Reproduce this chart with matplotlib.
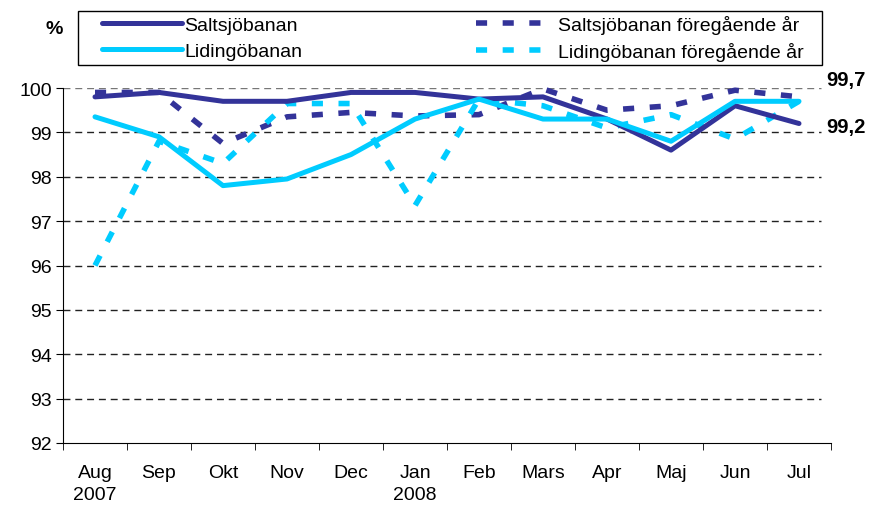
import matplotlib
matplotlib.use("Agg")
import matplotlib.pyplot as plt
from matplotlib.patches import Rectangle
import numpy as np

plt.rcParams['font.family'] = ['Liberation Sans', 'DejaVu Sans']

months = ['Aug\n2007', 'Sep', 'Okt', 'Nov', 'Dec', 'Jan\n2008', 'Feb', 'Mars',
          'Apr', 'Maj', 'Jun', 'Jul']
saltsjo = [99.8, 99.9, 99.7, 99.7, 99.9, 99.9, 99.75, 99.8, 99.3, 98.6, 99.6, 99.2]
lidingo = [99.35, 98.9, 97.8, 97.95, 98.5, 99.3, 99.75, 99.3, 99.3, 98.8, 99.7, 99.7]
saltsjo_prev = [99.9, 99.9, 98.75, 99.35, 99.45, 99.37, 99.4, 99.98, 99.5, 99.6, 99.95, 99.8]
lidingo_prev = [96.0, 98.8, 98.3, 99.65, 99.65, 97.35, 99.75, 99.6, 99.1, 99.4, 98.85, 99.7]

navy = '#333399'
cyan = '#00CCFF'
W, H = 869, 510

fig = plt.figure(figsize=(W / 100, H / 100), dpi=100)
ax = fig.add_axes([63 / W, 1 - 444 / H, (831 - 63) / W, (444 - 89) / H])
x = np.arange(len(months))

for y in range(93, 101):
    ax.plot([-0.5, 11.35], [y, y], color='#222222' if y < 100 else '#777777',
            lw=1, ls=(0, (5, 3.5)), zorder=1)

l1, = ax.plot(x, saltsjo, color=navy, lw=3.6, zorder=4, clip_on=False,
              solid_capstyle='round', label='Saltsjöbanan')
l2, = ax.plot(x, lidingo, color=cyan, lw=3.6, zorder=5, clip_on=False,
              solid_capstyle='round', label='Lidingöbanan')
l3, = ax.plot(x, saltsjo_prev, color=navy, lw=4, ls=(0, (2.0, 2.8)), zorder=3,
              clip_on=False, label='Saltsjöbanan föregående år')
l4, = ax.plot(x, lidingo_prev, color=cyan, lw=4, ls=(0, (2.0, 2.8)), zorder=3,
              clip_on=False, label='Lidingöbanan föregående år')

ax.set_xlim(-0.5, len(months) - 0.5)
ax.set_ylim(92, 100)
ax.set_yticks(range(92, 101))
ax.set_xticks(x)
ax.set_xticklabels(months, fontsize=14, linespacing=1.4)
ax.set_xticks(np.arange(-0.5, len(months)), minor=True)
ax.tick_params(axis='x', which='major', length=0, pad=15)
ax.tick_params(axis='x', which='minor', length=5, color='black')
ax.tick_params(axis='y', length=5, labelsize=14, pad=3)
for sp in ['top', 'right']:
    ax.spines[sp].set_visible(False)

ax.text(11.42, 100.2, '99,7', fontsize=14.5, fontweight='bold', va='center', ha='left')
ax.text(11.42, 99.13, '99,2', fontsize=14.5, fontweight='bold', va='center', ha='left')
fig.text(54 / W, 1 - 30 / H, '%', fontsize=14, fontweight='bold', ha='center', va='center')

fig.patches.append(Rectangle((78 / W, 1 - 66 / H), (822 - 78) / W, 54 / H,
                             transform=fig.transFigure, fill=False,
                             edgecolor='black', lw=1))
leg = fig.legend(handles=[l1, l2, l3, l4], loc='upper left', ncol=2,
                 bbox_to_anchor=(100 / W, 1 - 14 / H), borderaxespad=0,
                 borderpad=0.1, frameon=False, fontsize=14, handlelength=4.1,
                 columnspacing=8.9, handletextpad=0.15, labelspacing=0.42)

fig.savefig('out.png', dpi=100)
